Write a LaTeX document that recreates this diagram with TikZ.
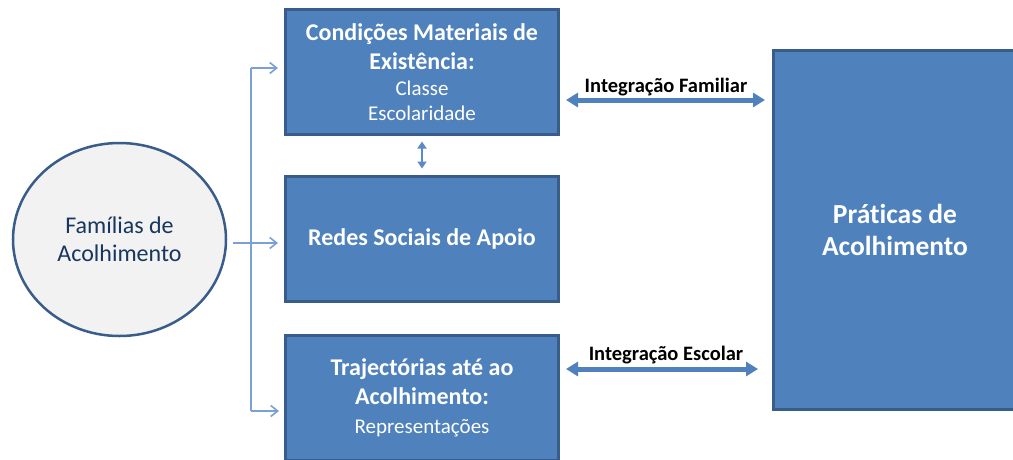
\documentclass[tikz,border=0pt]{standalone}
\usepackage{fontspec}
\setmainfont{Carlito}[Ligatures=NoCommon]
\usetikzlibrary{arrows.meta,shapes.geometric}
\definecolor{boxfill}{HTML}{4F81BD}
\definecolor{boxline}{HTML}{385D8A}
\definecolor{circfill}{HTML}{F2F2F2}
\definecolor{circtext}{HTML}{17375E}
\definecolor{connline}{HTML}{7AA0D4}
\definecolor{dblline}{HTML}{4F81BD}
\definecolor{smallarr}{HTML}{5B8AC8}
\tikzset{
  bluebox/.style={draw=boxline, line width=3pt, fill=boxfill, text=white,
    minimum width=273pt, minimum height=125pt, inner sep=0pt, align=center,
    font=\fontsize{24}{29}\selectfont\bfseries},
  famcircle/.style={ellipse, draw=boxline, line width=2.5pt, fill=circfill,
    minimum width=213pt, minimum height=193pt, inner sep=0pt, align=center,
    text=circtext, font=\fontsize{24}{28}\selectfont},
  conn/.style={draw=connline, line width=1.6pt},
  connarrow/.style={conn, -{Straight Barb[length=7pt,width=11pt]}},
  dblarrow/.style={draw=dblline, line width=5pt,
    {Triangle[length=12pt,width=14pt]}-{Triangle[length=12pt,width=14pt]}},
  smalldbl/.style={draw=smallarr, line width=2pt,
    {Triangle[length=7pt,width=9pt]}-{Triangle[length=7pt,width=9pt]}},
  arrlabel/.style={font=\fontsize{20.5}{24}\selectfont\bfseries, text=black,
    anchor=base, inner sep=0pt}
}
\begin{document}
\begin{tikzpicture}[x=1pt,y=-1pt]
\useasboundingbox (0,0) rectangle (1013,459);
\clip (0,0) rectangle (1013,459);
\fill[white] (0,0) rectangle (1013,459);

% boxes
\node[bluebox] (cond) at (422,72)
  {Condições Materiais de\\Existência:\\[-3pt]\mdseries\fontsize{21}{25}\selectfont Classe\\[-4pt]\mdseries\fontsize{21}{25}\selectfont Escolaridade};
\node[bluebox] (redes) at (422,239) {Redes Sociais de Apoio};
\node[bluebox] (traj) at (422,398)
  {Trajectórias até ao\\Acolhimento:\\\mdseries\fontsize{21}{25}\selectfont Representações};
\node[bluebox, minimum width=243pt, minimum height=359pt,
  font=\fontsize{27.5}{32}\selectfont\bfseries] (prat) at (895,230)
  {Práticas de\\Acolhimento};

% circle
\node[famcircle] (fam) at (119.5,239.5) {Famílias de\\Acolhimento};

% connectors from the circle
\coordinate (jtop) at (251,68);
\coordinate (jmid) at (251,243);
\coordinate (jbot) at (251,411);
\draw[conn] (jtop) -- (jbot);
\draw[connarrow, shorten >=6pt] (jtop) -- (jtop -| cond.west);
\draw[connarrow, shorten >=6pt, shorten <=6pt] (fam.east |- jmid) -- (jmid -| redes.west);
\draw[connarrow, shorten >=5pt] (jbot) -- (jbot -| traj.west);

% small double arrow
\draw[smalldbl, shorten <=5.5pt, shorten >=6.5pt] (cond.south) -- (redes.north);

% integration arrows
\draw[dblarrow, shorten <=6pt, shorten >=7pt]
  ([yshift=-28pt]cond.east) -- ([yshift=-28pt]cond.east -| prat.west)
  node[arrlabel, midway, yshift=8pt] {Integração Familiar};
\draw[dblarrow, shorten <=6pt, shorten >=14pt]
  ([yshift=29pt]traj.east) -- ([yshift=29pt]traj.east -| prat.west)
  node[arrlabel, midway, yshift=9pt] {Integração Escolar};
\end{tikzpicture}
\end{document}
